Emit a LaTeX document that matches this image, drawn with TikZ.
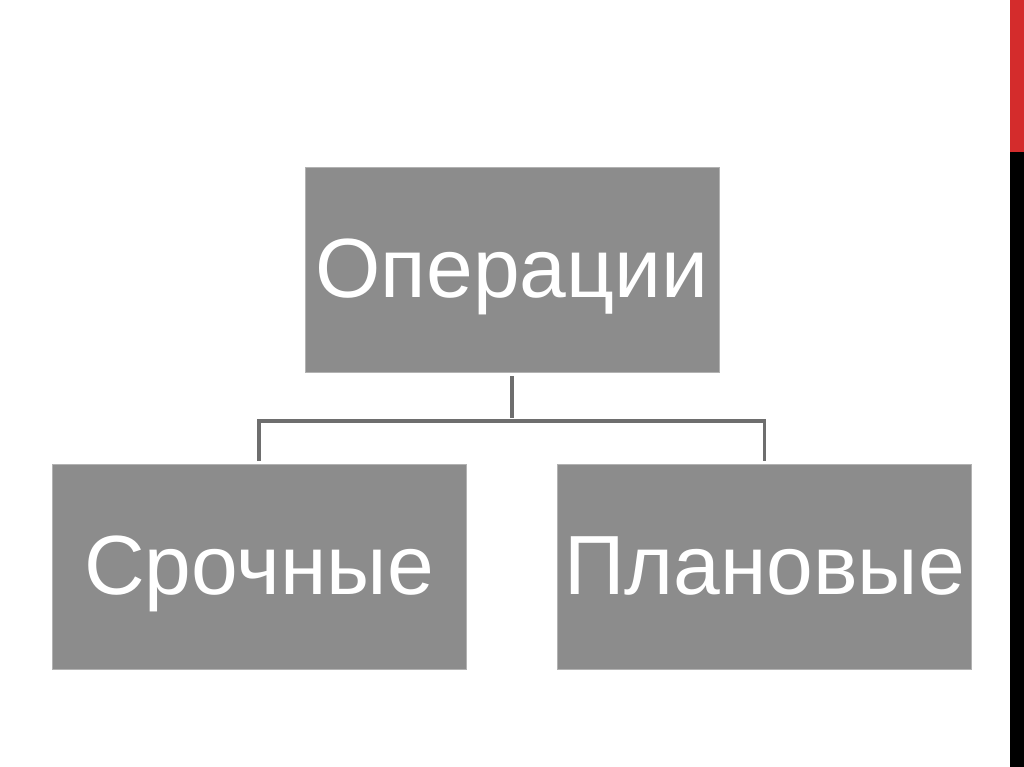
\documentclass[tikz,border=0pt]{standalone}
\usepackage{fontspec}
\setmainfont{Liberation Sans}
\usepackage{tikz}
\definecolor{boxgray}{RGB}{140,140,140}
\definecolor{edgegray}{RGB}{178,178,178}
\definecolor{linegray}{RGB}{110,110,110}
\definecolor{barred}{RGB}{212,44,44}

\begin{document}
\begin{tikzpicture}[x=1pt,y=-1pt,
  box/.style={fill=boxgray,draw=edgegray,line width=1pt,inner sep=0pt,
    minimum width=414pt,minimum height=205pt,text=white,
    text height=60pt,text depth=6pt,
    font=\fontsize{84}{90}\selectfont},
  conn/.style={draw=linegray,line width=3.2pt,shorten <=3pt,shorten >=3pt}]
\useasboundingbox (0,0) rectangle (1024,767);
% side bar
\fill[barred] (1010,0) rectangle (1024,152);
\fill[black] (1010,152) rectangle (1024,767);
% boxes
\node[box] (ops) at (512,270) {Операции};
\node[box] (urgent) at (259,567) {Срочные};
\node[box] (planned) at (764.5,567) {Плановые};
% tree lines
\coordinate (bus) at (512,421);
\draw[conn] (ops.south) -- (bus);
\draw[conn,line join=miter] (urgent.north) |- (bus) -| (planned.north);
\end{tikzpicture}
\end{document}
